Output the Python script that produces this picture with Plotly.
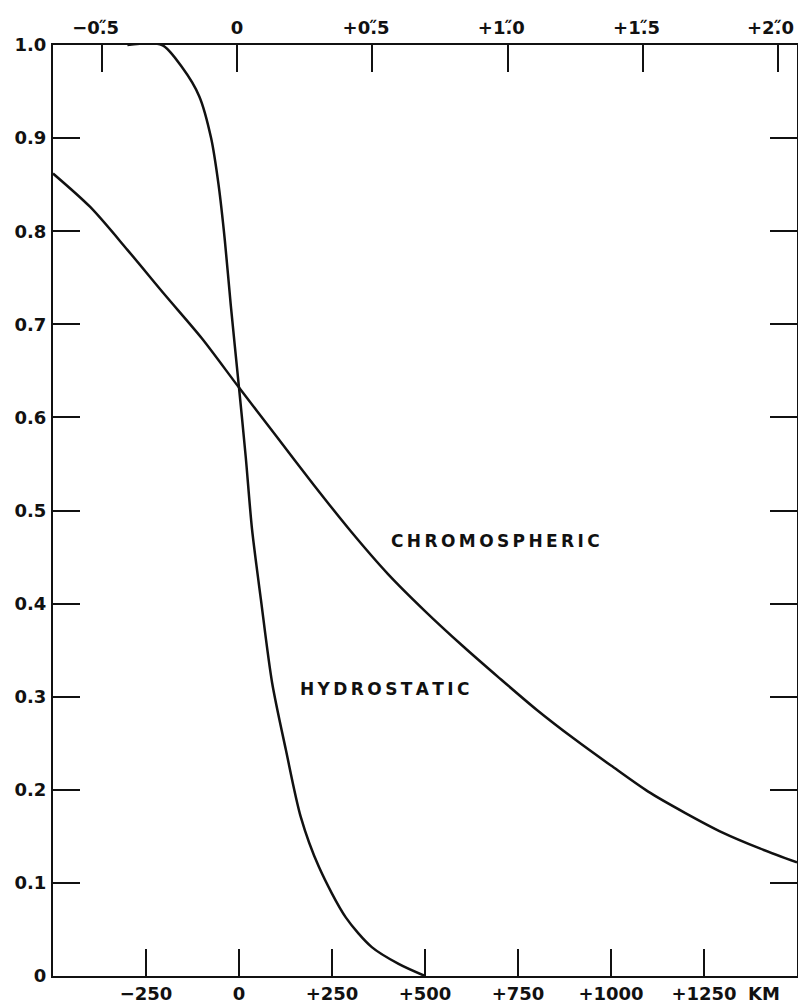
import plotly.graph_objects as go

# ---- data ----
hydro_km = [-300, -207, -153, -107, -75, -55, -38, -22, 0, 18, 35, 59, 89, 126, 166, 215, 287, 357, 429, 500]
hydro_val = [1.0, 1.0, 0.976, 0.945, 0.900, 0.850, 0.790, 0.720, 0.632, 0.558, 0.480, 0.404, 0.315, 0.243, 0.171, 0.117, 0.063, 0.031, 0.013, 0.0]

chromo_km = [-500, -400, -300, -200, -100, 0, 100, 200, 300, 400, 500, 600, 700, 800, 900, 1000, 1100, 1200, 1300, 1400, 1500]
chromo_val = [0.862, 0.826, 0.780, 0.732, 0.685, 0.632, 0.580, 0.528, 0.478, 0.432, 0.392, 0.355, 0.320, 0.286, 0.255, 0.226, 0.198, 0.175, 0.154, 0.137, 0.122]

km_ticks = [-250, 0, 250, 500, 750, 1000, 1250]
km_labels = ["\u2212250", "0", "+250", "+500", "+750", "+1000", "+1250"]
arc_ticks = [-0.5, 0, 0.5, 1.0, 1.5, 2.0]
PAD = "\u00a0\u00a0"  # trailing pad so the decimal mark sits over the tick
arc_labels = ["\u22120.\u030B5" + PAD, "0", "+0.\u030B5" + PAD, "+1.\u030B0" + PAD,
              "+1.\u030B5" + PAD, ""]
arc_edge_label = "+2.\u030B0"   # last top label, drawn as annotation so it stays inside the frame
y_ticks = [0, 0.1, 0.2, 0.3, 0.4, 0.5, 0.6, 0.7, 0.8, 0.9, 1.0]
y_labels = ["0", "0.1", "0.2", "0.3", "0.4", "0.5", "0.6", "0.7", "0.8", "0.9", "1.0"]

KM_RANGE = [-500, 1500]
KM_PER_ARCSEC = 727.0
ARC_ZERO_KM = -5.0
ARC_RANGE = [(KM_RANGE[0] - ARC_ZERO_KM) / KM_PER_ARCSEC, (KM_RANGE[1] - ARC_ZERO_KM) / KM_PER_ARCSEC]

FONT = "DejaVu Sans"
INK = "#111111"

fig = go.Figure()
fig.add_trace(go.Scatter(x=chromo_km, y=chromo_val, mode="lines",
                         line=dict(color=INK, width=2.5, shape="spline", smoothing=0.8),
                         showlegend=False, hoverinfo="skip"))
fig.add_trace(go.Scatter(x=hydro_km, y=hydro_val, mode="lines",
                         line=dict(color=INK, width=2.5, shape="spline", smoothing=0.8),
                         showlegend=False, hoverinfo="skip"))
# invisible trace anchoring the top (arc-second) axis
fig.add_trace(go.Scatter(x=ARC_RANGE, y=[None, None], xaxis="x2", mode="lines",
                         showlegend=False, hoverinfo="skip"))

tickfont = dict(family=FONT, size=18, color=INK, weight="bold")
common = dict(ticks="inside", ticklen=27, tickwidth=2, tickcolor=INK,
              showline=True, linewidth=2, linecolor=INK,
              showgrid=False, zeroline=False, tickfont=tickfont,
              automargin=False, ticklabeloverflow="allow")

fig.update_layout(
    width=798, height=1006,
    margin=dict(l=53, r=1, t=45, b=30),
    paper_bgcolor="white", plot_bgcolor="white",
    xaxis=dict(range=KM_RANGE, tickmode="array", tickvals=km_ticks, ticktext=km_labels,
               mirror=False, ticklabelstandoff=0, **common),
    xaxis2=dict(range=ARC_RANGE, overlaying="x", side="top", tickmode="array",
                tickvals=arc_ticks, ticktext=arc_labels, ticklabelstandoff=2, **common),
    yaxis=dict(range=[0, 1.0], tickmode="array", tickvals=y_ticks, ticktext=y_labels,
               mirror="ticks", ticklabelstandoff=1, **common),
    annotations=[
        dict(x=689, y=0.467, xref="x", yref="y",
             text="\u2009".join("CHROMOSPHERIC"), showarrow=False,
             font=dict(family=FONT, size=17, color=INK, weight="bold")),
        dict(x=392, y=0.308, xref="x", yref="y",
             text="\u2009".join("HYDROSTATIC"), showarrow=False,
             font=dict(family=FONT, size=17, color=INK, weight="bold")),
        dict(x=1362, y=-0.0183, xref="x", yref="paper", xanchor="left", yanchor="middle",
             text="KM", showarrow=False,
             font=dict(family=FONT, size=18, color=INK, weight="bold")),
        dict(x=arc_ticks[-1], y=1, xref="x2", yref="paper", xanchor="center", yanchor="middle",
             xshift=-8, yshift=18, text=arc_edge_label, showarrow=False,
             font=dict(family=FONT, size=18, color=INK, weight="bold")),
    ],
)

# remove the default 8px page margin so the figure fills the window exactly
fig.write_html("out.html", config={"displayModeBar": False},
               post_script="document.body.style.margin='0';document.body.style.overflow='hidden';")
